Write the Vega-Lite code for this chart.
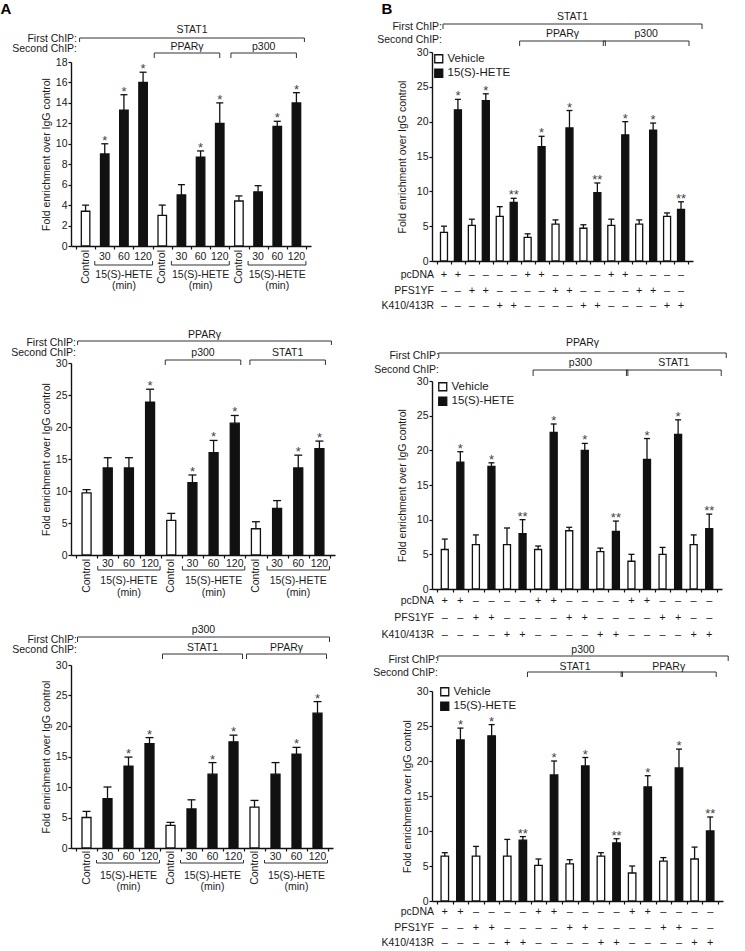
{
"$schema": "https://vega.github.io/schema/vega-lite/v6.json",
"background": "white",
"padding": {"left": 0, "top": 2, "right": 0, "bottom": 0},
"config": {
  "font": "Liberation Sans",
  "view": {"stroke": null},
  "axis": {"grid": false, "domainColor": "#111", "domainWidth": 1.4, "tickColor": "#111", "tickWidth": 1.2, "tickSize": 3, "labelFontSize": 10.5, "labelColor": "#1a1a1a", "labelPadding": 1, "labelOverlap": false, "titleFontSize": 10.5, "titleFontWeight": "normal", "titleColor": "#1a1a1a"},
  "text": {"fontSize": 10.5, "color": "#1a1a1a"},
  "rule": {"color": "#333", "strokeWidth": 1}
},
"datasets": {
  "a1": [
    {"pos":1,"t":"Control","lab":"Control","v":3.4,"hi":4.0,"sig":""},
    {"pos":2,"t":"15(S)-HETE","lab":"30","v":9.0,"hi":10.0,"sig":"*"},
    {"pos":3,"t":"15(S)-HETE","lab":"60","v":13.3,"hi":14.8,"sig":"*"},
    {"pos":4,"t":"15(S)-HETE","lab":"120","v":16.0,"hi":17.0,"sig":"*"},
    {"pos":5,"t":"Control","lab":"Control","v":3.0,"hi":4.0,"sig":""},
    {"pos":6,"t":"15(S)-HETE","lab":"30","v":5.0,"hi":6.0,"sig":""},
    {"pos":7,"t":"15(S)-HETE","lab":"60","v":8.7,"hi":9.3,"sig":"*"},
    {"pos":8,"t":"15(S)-HETE","lab":"120","v":12.0,"hi":14.0,"sig":"*"},
    {"pos":9,"t":"Control","lab":"Control","v":4.4,"hi":4.9,"sig":""},
    {"pos":10,"t":"15(S)-HETE","lab":"30","v":5.3,"hi":5.9,"sig":""},
    {"pos":11,"t":"15(S)-HETE","lab":"60","v":11.7,"hi":12.2,"sig":"*"},
    {"pos":12,"t":"15(S)-HETE","lab":"120","v":14.0,"hi":15.0,"sig":"*"}
  ],
  "a2": [
    {"pos":1,"t":"Control","lab":"Control","v":9.7,"hi":10.2,"sig":""},
    {"pos":2,"t":"15(S)-HETE","lab":"30","v":13.6,"hi":15.2,"sig":""},
    {"pos":3,"t":"15(S)-HETE","lab":"60","v":13.6,"hi":15.2,"sig":""},
    {"pos":4,"t":"15(S)-HETE","lab":"120","v":23.9,"hi":25.9,"sig":"*"},
    {"pos":5,"t":"Control","lab":"Control","v":5.4,"hi":6.5,"sig":""},
    {"pos":6,"t":"15(S)-HETE","lab":"30","v":11.3,"hi":12.5,"sig":"*"},
    {"pos":7,"t":"15(S)-HETE","lab":"60","v":16.0,"hi":17.9,"sig":"*"},
    {"pos":8,"t":"15(S)-HETE","lab":"120","v":20.6,"hi":21.8,"sig":"*"},
    {"pos":9,"t":"Control","lab":"Control","v":4.1,"hi":5.2,"sig":""},
    {"pos":10,"t":"15(S)-HETE","lab":"30","v":7.3,"hi":8.5,"sig":""},
    {"pos":11,"t":"15(S)-HETE","lab":"60","v":13.6,"hi":15.6,"sig":"*"},
    {"pos":12,"t":"15(S)-HETE","lab":"120","v":16.6,"hi":17.8,"sig":"*"}
  ],
  "a3": [
    {"pos":1,"t":"Control","lab":"Control","v":5.0,"hi":6.0,"sig":""},
    {"pos":2,"t":"15(S)-HETE","lab":"30","v":8.1,"hi":10.0,"sig":""},
    {"pos":3,"t":"15(S)-HETE","lab":"60","v":13.4,"hi":14.9,"sig":"*"},
    {"pos":4,"t":"15(S)-HETE","lab":"120","v":17.1,"hi":18.1,"sig":"*"},
    {"pos":5,"t":"Control","lab":"Control","v":3.7,"hi":4.2,"sig":""},
    {"pos":6,"t":"15(S)-HETE","lab":"30","v":6.4,"hi":7.9,"sig":""},
    {"pos":7,"t":"15(S)-HETE","lab":"60","v":12.1,"hi":14.0,"sig":"*"},
    {"pos":8,"t":"15(S)-HETE","lab":"120","v":17.4,"hi":18.5,"sig":"*"},
    {"pos":9,"t":"Control","lab":"Control","v":6.7,"hi":7.8,"sig":""},
    {"pos":10,"t":"15(S)-HETE","lab":"30","v":12.1,"hi":14.0,"sig":""},
    {"pos":11,"t":"15(S)-HETE","lab":"60","v":15.4,"hi":16.5,"sig":"*"},
    {"pos":12,"t":"15(S)-HETE","lab":"120","v":22.1,"hi":24.0,"sig":"*"}
  ],
  "b1": [
    {"pos":1,"t":"Vehicle","v":4.1,"hi":5.0,"sig":"","pc":"+","pf":"–","kr":"–"},
    {"pos":2,"t":"15(S)-HETE","v":21.7,"hi":23.2,"sig":"*","pc":"+","pf":"–","kr":"–"},
    {"pos":3,"t":"Vehicle","v":5.1,"hi":6.0,"sig":"","pc":"–","pf":"+","kr":"–"},
    {"pos":4,"t":"15(S)-HETE","v":23.0,"hi":24.0,"sig":"*","pc":"–","pf":"+","kr":"–"},
    {"pos":5,"t":"Vehicle","v":6.4,"hi":7.8,"sig":"","pc":"–","pf":"–","kr":"+"},
    {"pos":6,"t":"15(S)-HETE","v":8.4,"hi":9.0,"sig":"**","pc":"–","pf":"–","kr":"+"},
    {"pos":7,"t":"Vehicle","v":3.4,"hi":3.9,"sig":"","pc":"+","pf":"–","kr":"–"},
    {"pos":8,"t":"15(S)-HETE","v":16.4,"hi":17.9,"sig":"*","pc":"+","pf":"–","kr":"–"},
    {"pos":9,"t":"Vehicle","v":5.3,"hi":5.9,"sig":"","pc":"–","pf":"+","kr":"–"},
    {"pos":10,"t":"15(S)-HETE","v":19.1,"hi":21.6,"sig":"*","pc":"–","pf":"+","kr":"–"},
    {"pos":11,"t":"Vehicle","v":4.7,"hi":5.2,"sig":"","pc":"–","pf":"–","kr":"+"},
    {"pos":12,"t":"15(S)-HETE","v":9.8,"hi":11.2,"sig":"**","pc":"–","pf":"–","kr":"+"},
    {"pos":13,"t":"Vehicle","v":5.1,"hi":6.0,"sig":"","pc":"+","pf":"–","kr":"–"},
    {"pos":14,"t":"15(S)-HETE","v":18.1,"hi":20.0,"sig":"*","pc":"+","pf":"–","kr":"–"},
    {"pos":15,"t":"Vehicle","v":5.3,"hi":5.9,"sig":"","pc":"–","pf":"+","kr":"–"},
    {"pos":16,"t":"15(S)-HETE","v":18.8,"hi":19.8,"sig":"*","pc":"–","pf":"+","kr":"–"},
    {"pos":17,"t":"Vehicle","v":6.4,"hi":6.9,"sig":"","pc":"–","pf":"–","kr":"+"},
    {"pos":18,"t":"15(S)-HETE","v":7.4,"hi":8.5,"sig":"**","pc":"–","pf":"–","kr":"+"}
  ],
  "b2": [
    {"pos":1,"t":"Vehicle","v":5.7,"hi":7.2,"sig":"","pc":"+","pf":"–","kr":"–"},
    {"pos":2,"t":"15(S)-HETE","v":18.3,"hi":19.8,"sig":"*","pc":"+","pf":"–","kr":"–"},
    {"pos":3,"t":"Vehicle","v":6.4,"hi":7.8,"sig":"","pc":"–","pf":"+","kr":"–"},
    {"pos":4,"t":"15(S)-HETE","v":17.7,"hi":18.2,"sig":"*","pc":"–","pf":"+","kr":"–"},
    {"pos":5,"t":"Vehicle","v":6.4,"hi":8.8,"sig":"","pc":"–","pf":"–","kr":"+"},
    {"pos":6,"t":"15(S)-HETE","v":8.0,"hi":10.0,"sig":"**","pc":"–","pf":"–","kr":"+"},
    {"pos":7,"t":"Vehicle","v":5.7,"hi":6.2,"sig":"","pc":"+","pf":"–","kr":"–"},
    {"pos":8,"t":"15(S)-HETE","v":22.6,"hi":23.8,"sig":"*","pc":"+","pf":"–","kr":"–"},
    {"pos":9,"t":"Vehicle","v":8.4,"hi":8.9,"sig":"","pc":"–","pf":"+","kr":"–"},
    {"pos":10,"t":"15(S)-HETE","v":20.0,"hi":21.0,"sig":"*","pc":"–","pf":"+","kr":"–"},
    {"pos":11,"t":"Vehicle","v":5.4,"hi":5.9,"sig":"","pc":"–","pf":"–","kr":"+"},
    {"pos":12,"t":"15(S)-HETE","v":8.3,"hi":9.8,"sig":"**","pc":"–","pf":"–","kr":"+"},
    {"pos":13,"t":"Vehicle","v":4.0,"hi":5.0,"sig":"","pc":"+","pf":"–","kr":"–"},
    {"pos":14,"t":"15(S)-HETE","v":18.7,"hi":21.7,"sig":"*","pc":"+","pf":"–","kr":"–"},
    {"pos":15,"t":"Vehicle","v":5.0,"hi":6.0,"sig":"","pc":"–","pf":"+","kr":"–"},
    {"pos":16,"t":"15(S)-HETE","v":22.3,"hi":24.4,"sig":"*","pc":"–","pf":"+","kr":"–"},
    {"pos":17,"t":"Vehicle","v":6.4,"hi":7.8,"sig":"","pc":"–","pf":"–","kr":"+"},
    {"pos":18,"t":"15(S)-HETE","v":8.7,"hi":10.8,"sig":"**","pc":"–","pf":"–","kr":"+"}
  ],
  "b3": [
    {"pos":1,"t":"Vehicle","v":6.4,"hi":6.9,"sig":"","pc":"+","pf":"–","kr":"–"},
    {"pos":2,"t":"15(S)-HETE","v":23.0,"hi":24.7,"sig":"*","pc":"+","pf":"–","kr":"–"},
    {"pos":3,"t":"Vehicle","v":6.4,"hi":7.8,"sig":"","pc":"–","pf":"+","kr":"–"},
    {"pos":4,"t":"15(S)-HETE","v":23.6,"hi":25.2,"sig":"*","pc":"–","pf":"+","kr":"–"},
    {"pos":5,"t":"Vehicle","v":6.4,"hi":8.8,"sig":"","pc":"–","pf":"–","kr":"+"},
    {"pos":6,"t":"15(S)-HETE","v":8.7,"hi":9.2,"sig":"**","pc":"–","pf":"–","kr":"+"},
    {"pos":7,"t":"Vehicle","v":5.1,"hi":6.0,"sig":"","pc":"+","pf":"–","kr":"–"},
    {"pos":8,"t":"15(S)-HETE","v":18.0,"hi":20.0,"sig":"*","pc":"+","pf":"–","kr":"–"},
    {"pos":9,"t":"Vehicle","v":5.3,"hi":5.9,"sig":"","pc":"–","pf":"+","kr":"–"},
    {"pos":10,"t":"15(S)-HETE","v":19.3,"hi":20.5,"sig":"*","pc":"–","pf":"+","kr":"–"},
    {"pos":11,"t":"Vehicle","v":6.4,"hi":6.9,"sig":"","pc":"–","pf":"–","kr":"+"},
    {"pos":12,"t":"15(S)-HETE","v":8.3,"hi":8.9,"sig":"**","pc":"–","pf":"–","kr":"+"},
    {"pos":13,"t":"Vehicle","v":4.0,"hi":5.0,"sig":"","pc":"+","pf":"–","kr":"–"},
    {"pos":14,"t":"15(S)-HETE","v":16.3,"hi":17.9,"sig":"*","pc":"+","pf":"–","kr":"–"},
    {"pos":15,"t":"Vehicle","v":5.7,"hi":6.2,"sig":"","pc":"–","pf":"+","kr":"–"},
    {"pos":16,"t":"15(S)-HETE","v":19.0,"hi":21.7,"sig":"*","pc":"–","pf":"+","kr":"–"},
    {"pos":17,"t":"Vehicle","v":6.0,"hi":7.7,"sig":"","pc":"–","pf":"–","kr":"+"},
    {"pos":18,"t":"15(S)-HETE","v":10.0,"hi":12.0,"sig":"**","pc":"–","pf":"–","kr":"+"}
  ],
  "ub": [
    {"f":2,"e":4,"c":3,"l1":"15(S)-HETE","l2":"(min)"},
    {"f":6,"e":8,"c":7,"l1":"15(S)-HETE","l2":"(min)"},
    {"f":10,"e":12,"c":11,"l1":"15(S)-HETE","l2":"(min)"}
  ],
  "ba1": [{"lvl":1,"f":1,"e":12,"c":6.5,"lab":"STAT1"},{"lvl":2,"f":5,"e":8,"c":6.5,"lab":"PPARγ"},{"lvl":2,"f":9,"e":12,"c":10.5,"lab":"p300"}],
  "ba2": [{"lvl":1,"f":1,"e":12,"c":6.5,"lab":"PPARγ"},{"lvl":2,"f":5,"e":8,"c":6.5,"lab":"p300"},{"lvl":2,"f":9,"e":12,"c":10.5,"lab":"STAT1"}],
  "ba3": [{"lvl":1,"f":1,"e":12,"c":6.5,"lab":"p300"},{"lvl":2,"f":5,"e":8,"c":6.5,"lab":"STAT1"},{"lvl":2,"f":9,"e":12,"c":10.5,"lab":"PPARγ"}],
  "bb1": [{"lvl":1,"f":1,"e":18,"c":9.5,"lab":"STAT1"},{"lvl":2,"f":7,"e":12,"c":9.5,"lab":"PPARγ"},{"lvl":2,"f":13,"e":18,"c":15.5,"lab":"p300"}],
  "bb2": [{"lvl":1,"f":1,"e":18,"c":9.5,"lab":"PPARγ"},{"lvl":2,"f":7,"e":12,"c":9.5,"lab":"p300"},{"lvl":2,"f":13,"e":18,"c":15.5,"lab":"STAT1"}],
  "bb3": [{"lvl":1,"f":1,"e":18,"c":9.5,"lab":"p300"},{"lvl":2,"f":7,"e":12,"c":9.5,"lab":"STAT1"},{"lvl":2,"f":13,"e":18,"c":15.5,"lab":"PPARγ"}],
  "chip": [{"k":1,"t":"First ChIP:"},{"k":2,"t":"Second ChIP:"}],
  "rows": [{"k":1,"r":"pcDNA"},{"k":2,"r":"PFS1YF"},{"k":3,"r":"K410/413R"}],
  "letA": [{"t":"A"}],
  "letB": [{"t":"B"}]
},
"spacing": 38,
"resolve": {"scale": {"fill": "independent"}, "legend": {"fill": "independent"}},
"hconcat": [
{
"spacing": 110, "bounds": "flush",
"resolve": {"scale": {"fill": "independent"}, "legend": {"fill": "independent"}},
"vconcat": [
{
"width": 240, "height": 194,
"layer": [
{"data":{"name":"a1"},"mark":{"type":"bar","width":8.5,"stroke":"#111","strokeWidth":1.3},
 "encoding":{
  "x":{"field":"pos","type":"quantitative","scale":{"domain":[0.5,12.5],"nice":false,"zero":false},"axis":{"values":[0.5,1.5,2.5,3.5,4.5,5.5,6.5,7.5,8.5,9.5,10.5,11.5,12.5],"tickCount":50,"labels":false,"title":null}},
  "y":{"field":"v","type":"quantitative","scale":{"domain":[0,18],"nice":false,"range":[194,10]},"axis":{"values":[0,2,4,6,8,10,12,14,16,18],"tickCount":50,"format":"d","labelOverlap":false,"title":"Fold enrichment over IgG control","titlePadding":4}},
  "y2":{"datum":0},
  "fill":{"field":"t","type":"nominal","scale":{"domain":["Control","15(S)-HETE"],"range":["#ffffff","#111111"]},"legend":null}}},
{"data":{"name":"a1"},"mark":{"type":"rule","color":"#111","strokeWidth":1.3},"encoding":{"x":{"field":"pos","type":"quantitative"},"y":{"field":"v","type":"quantitative"},"y2":{"field":"hi"}}},
{"data":{"name":"a1"},"mark":{"type":"tick","orient":"horizontal","size":7,"thickness":1.3,"color":"#111","opacity":1},"encoding":{"x":{"field":"pos","type":"quantitative"},"y":{"field":"hi","type":"quantitative"}}},
{"data":{"name":"a1"},"mark":{"type":"text","fontSize":13,"baseline":"alphabetic","yOffset":1,"color":"#444"},"encoding":{"x":{"field":"pos","type":"quantitative"},"y":{"field":"hi","type":"quantitative"},"text":{"field":"sig"}}},
{"data":{"name":"a1"},"transform":[{"filter":"datum.lab == 'Control'"}],"mark":{"type":"text","angle":270,"align":"right","baseline":"middle","yOffset":4},"encoding":{"x":{"field":"pos","type":"quantitative"},"y":{"datum":0},"text":{"field":"lab"}}},
{"data":{"name":"a1"},"transform":[{"filter":"datum.lab != 'Control'"}],"mark":{"type":"text","baseline":"middle","yOffset":11},"encoding":{"x":{"field":"pos","type":"quantitative"},"y":{"datum":0},"text":{"field":"lab"}}},
{"data":{"name":"ub"},"mark":{"type":"rule","xOffset":-10,"x2Offset":9.5,"yOffset":19},"encoding":{"x":{"field":"f","type":"quantitative"},"x2":{"field":"e"},"y":{"datum":0}}},
{"data":{"name":"ub"},"mark":{"type":"rule","xOffset":-10,"yOffset":15,"y2Offset":19},"encoding":{"x":{"field":"f","type":"quantitative"},"y":{"datum":0},"y2":{"datum":0}}},
{"data":{"name":"ub"},"mark":{"type":"rule","xOffset":9.5,"yOffset":15,"y2Offset":19},"encoding":{"x":{"field":"e","type":"quantitative"},"y":{"datum":0},"y2":{"datum":0}}},
{"data":{"name":"ub"},"mark":{"type":"text","baseline":"middle","yOffset":29},"encoding":{"x":{"field":"c","type":"quantitative"},"y":{"datum":0},"text":{"field":"l1"}}},
{"data":{"name":"ub"},"mark":{"type":"text","baseline":"middle","yOffset":40},"encoding":{"x":{"field":"c","type":"quantitative"},"y":{"datum":0},"text":{"field":"l2"}}},
{"data":{"name":"ba1"},"transform":[{"filter":"datum.lvl == 1"}],"mark":{"type":"rule","xOffset":-6,"x2Offset":8,"yOffset":-24},"encoding":{"x":{"field":"f","type":"quantitative"},"x2":{"field":"e"},"y":{"datum":18}}},
{"data":{"name":"ba1"},"transform":[{"filter":"datum.lvl == 1"}],"mark":{"type":"rule","xOffset":-6,"yOffset":-24,"y2Offset":-20},"encoding":{"x":{"field":"f","type":"quantitative"},"y":{"datum":18},"y2":{"datum":18}}},
{"data":{"name":"ba1"},"transform":[{"filter":"datum.lvl == 1"}],"mark":{"type":"rule","xOffset":8,"yOffset":-24,"y2Offset":-20},"encoding":{"x":{"field":"e","type":"quantitative"},"y":{"datum":18},"y2":{"datum":18}}},
{"data":{"name":"ba1"},"transform":[{"filter":"datum.lvl == 1"}],"mark":{"type":"text","baseline":"middle","xOffset":1,"yOffset":-32},"encoding":{"x":{"field":"c","type":"quantitative"},"y":{"datum":18},"text":{"field":"lab"}}},
{"data":{"name":"ba1"},"transform":[{"filter":"datum.lvl == 2"}],"mark":{"type":"rule","xOffset":-8,"x2Offset":0,"yOffset":-9},"encoding":{"x":{"field":"f","type":"quantitative"},"x2":{"field":"e"},"y":{"datum":18}}},
{"data":{"name":"ba1"},"transform":[{"filter":"datum.lvl == 2"}],"mark":{"type":"rule","xOffset":-8,"yOffset":-9,"y2Offset":-4},"encoding":{"x":{"field":"f","type":"quantitative"},"y":{"datum":18},"y2":{"datum":18}}},
{"data":{"name":"ba1"},"transform":[{"filter":"datum.lvl == 2"}],"mark":{"type":"rule","xOffset":0,"yOffset":-9,"y2Offset":-4},"encoding":{"x":{"field":"e","type":"quantitative"},"y":{"datum":18},"y2":{"datum":18}}},
{"data":{"name":"ba1"},"transform":[{"filter":"datum.lvl == 2"}],"mark":{"type":"text","baseline":"middle","xOffset":-4,"yOffset":-15},"encoding":{"x":{"field":"c","type":"quantitative"},"y":{"datum":18},"text":{"field":"lab"}}},
{"data":{"name":"chip"},"transform":[{"filter":"datum.k == 1"}],"mark":{"type":"text","align":"right","baseline":"middle","xOffset":1,"yOffset":-23.5},"encoding":{"x":{"datum":0.5},"y":{"datum":18},"text":{"field":"t"}}},
{"data":{"name":"chip"},"transform":[{"filter":"datum.k == 2"}],"mark":{"type":"text","align":"right","baseline":"middle","xOffset":1,"yOffset":-13},"encoding":{"x":{"datum":0.5},"y":{"datum":18},"text":{"field":"t"}}},
{"data":{"name":"letA"},"mark":{"type":"text","fontSize":15,"fontWeight":"bold","baseline":"middle","xOffset":-70,"yOffset":-53,"color":"#000"},"encoding":{"x":{"datum":0.5},"y":{"datum":18},"text":{"field":"t"}}}
]
},
{
"width": 264, "height": 199,
"layer": [
{"data":{"name":"a2"},"mark":{"type":"bar","width":9,"stroke":"#111","strokeWidth":1.3},
 "encoding":{
  "x":{"field":"pos","type":"quantitative","scale":{"domain":[0.5,12.5],"nice":false,"zero":false},"axis":{"values":[0.5,1.5,2.5,3.5,4.5,5.5,6.5,7.5,8.5,9.5,10.5,11.5,12.5],"tickCount":50,"labels":false,"title":null}},
  "y":{"field":"v","type":"quantitative","scale":{"domain":[0,30],"nice":false,"range":[199,7]},"axis":{"values":[0,5,10,15,20,25,30],"tickCount":50,"format":"d","labelOverlap":false,"title":"Fold enrichment over IgG control","titlePadding":4}},
  "y2":{"datum":0},
  "fill":{"field":"t","type":"nominal","scale":{"domain":["Control","15(S)-HETE"],"range":["#ffffff","#111111"]},"legend":null}}},
{"data":{"name":"a2"},"mark":{"type":"rule","color":"#111","strokeWidth":1.3},"encoding":{"x":{"field":"pos","type":"quantitative"},"y":{"field":"v","type":"quantitative"},"y2":{"field":"hi"}}},
{"data":{"name":"a2"},"mark":{"type":"tick","orient":"horizontal","size":8,"thickness":1.3,"color":"#111","opacity":1},"encoding":{"x":{"field":"pos","type":"quantitative"},"y":{"field":"hi","type":"quantitative"}}},
{"data":{"name":"a2"},"mark":{"type":"text","fontSize":13,"baseline":"alphabetic","yOffset":1,"color":"#444"},"encoding":{"x":{"field":"pos","type":"quantitative"},"y":{"field":"hi","type":"quantitative"},"text":{"field":"sig"}}},
{"data":{"name":"a2"},"transform":[{"filter":"datum.lab == 'Control'"}],"mark":{"type":"text","angle":270,"align":"right","baseline":"middle","yOffset":4},"encoding":{"x":{"field":"pos","type":"quantitative"},"y":{"datum":0},"text":{"field":"lab"}}},
{"data":{"name":"a2"},"transform":[{"filter":"datum.lab != 'Control'"}],"mark":{"type":"text","baseline":"middle","yOffset":9},"encoding":{"x":{"field":"pos","type":"quantitative"},"y":{"datum":0},"text":{"field":"lab"}}},
{"data":{"name":"ub"},"mark":{"type":"rule","xOffset":-10,"x2Offset":10,"yOffset":15},"encoding":{"x":{"field":"f","type":"quantitative"},"x2":{"field":"e"},"y":{"datum":0}}},
{"data":{"name":"ub"},"mark":{"type":"rule","xOffset":-10,"yOffset":11,"y2Offset":15},"encoding":{"x":{"field":"f","type":"quantitative"},"y":{"datum":0},"y2":{"datum":0}}},
{"data":{"name":"ub"},"mark":{"type":"rule","xOffset":10,"yOffset":11,"y2Offset":15},"encoding":{"x":{"field":"e","type":"quantitative"},"y":{"datum":0},"y2":{"datum":0}}},
{"data":{"name":"ub"},"mark":{"type":"text","baseline":"middle","yOffset":26},"encoding":{"x":{"field":"c","type":"quantitative"},"y":{"datum":0},"text":{"field":"l1"}}},
{"data":{"name":"ub"},"mark":{"type":"text","baseline":"middle","yOffset":38},"encoding":{"x":{"field":"c","type":"quantitative"},"y":{"datum":0},"text":{"field":"l2"}}},
{"data":{"name":"ba2"},"transform":[{"filter":"datum.lvl == 1"}],"mark":{"type":"rule","xOffset":-9,"x2Offset":12,"yOffset":-22},"encoding":{"x":{"field":"f","type":"quantitative"},"x2":{"field":"e"},"y":{"datum":30}}},
{"data":{"name":"ba2"},"transform":[{"filter":"datum.lvl == 1"}],"mark":{"type":"rule","xOffset":-9,"yOffset":-22,"y2Offset":-18},"encoding":{"x":{"field":"f","type":"quantitative"},"y":{"datum":30},"y2":{"datum":30}}},
{"data":{"name":"ba2"},"transform":[{"filter":"datum.lvl == 1"}],"mark":{"type":"rule","xOffset":12,"yOffset":-22,"y2Offset":-18},"encoding":{"x":{"field":"e","type":"quantitative"},"y":{"datum":30},"y2":{"datum":30}}},
{"data":{"name":"ba2"},"transform":[{"filter":"datum.lvl == 1"}],"mark":{"type":"text","baseline":"middle","xOffset":1.5,"yOffset":-28},"encoding":{"x":{"field":"c","type":"quantitative"},"y":{"datum":30},"text":{"field":"lab"}}},
{"data":{"name":"ba2"},"transform":[{"filter":"datum.lvl == 2"}],"mark":{"type":"rule","xOffset":-6,"x2Offset":6,"yOffset":-3},"encoding":{"x":{"field":"f","type":"quantitative"},"x2":{"field":"e"},"y":{"datum":30}}},
{"data":{"name":"ba2"},"transform":[{"filter":"datum.lvl == 2"}],"mark":{"type":"rule","xOffset":-6,"yOffset":-3,"y2Offset":2},"encoding":{"x":{"field":"f","type":"quantitative"},"y":{"datum":30},"y2":{"datum":30}}},
{"data":{"name":"ba2"},"transform":[{"filter":"datum.lvl == 2"}],"mark":{"type":"rule","xOffset":6,"yOffset":-3,"y2Offset":2},"encoding":{"x":{"field":"e","type":"quantitative"},"y":{"datum":30},"y2":{"datum":30}}},
{"data":{"name":"ba2"},"transform":[{"filter":"datum.lvl == 2"}],"mark":{"type":"text","baseline":"middle","xOffset":0,"yOffset":-10},"encoding":{"x":{"field":"c","type":"quantitative"},"y":{"datum":30},"text":{"field":"lab"}}},
{"data":{"name":"chip"},"transform":[{"filter":"datum.k == 1"}],"mark":{"type":"text","align":"right","baseline":"middle","xOffset":0,"yOffset":-20.5},"encoding":{"x":{"datum":0.5},"y":{"datum":30},"text":{"field":"t"}}},
{"data":{"name":"chip"},"transform":[{"filter":"datum.k == 2"}],"mark":{"type":"text","align":"right","baseline":"middle","xOffset":0,"yOffset":-10},"encoding":{"x":{"datum":0.5},"y":{"datum":30},"text":{"field":"t"}}}
]
},
{
"width": 262, "height": 183,
"layer": [
{"data":{"name":"a3"},"mark":{"type":"bar","width":9,"stroke":"#111","strokeWidth":1.3},
 "encoding":{
  "x":{"field":"pos","type":"quantitative","scale":{"domain":[0.5,12.5],"nice":false,"zero":false},"axis":{"values":[0.5,1.5,2.5,3.5,4.5,5.5,6.5,7.5,8.5,9.5,10.5,11.5,12.5],"tickCount":50,"labels":false,"title":null}},
  "y":{"field":"v","type":"quantitative","scale":{"domain":[0,30],"nice":false},"axis":{"values":[0,5,10,15,20,25,30],"tickCount":50,"format":"d","labelOverlap":false,"title":"Fold enrichment over IgG control","titlePadding":3.5}},
  "y2":{"datum":0},
  "fill":{"field":"t","type":"nominal","scale":{"domain":["Control","15(S)-HETE"],"range":["#ffffff","#111111"]},"legend":null}}},
{"data":{"name":"a3"},"mark":{"type":"rule","color":"#111","strokeWidth":1.3},"encoding":{"x":{"field":"pos","type":"quantitative"},"y":{"field":"v","type":"quantitative"},"y2":{"field":"hi"}}},
{"data":{"name":"a3"},"mark":{"type":"tick","orient":"horizontal","size":8,"thickness":1.3,"color":"#111","opacity":1},"encoding":{"x":{"field":"pos","type":"quantitative"},"y":{"field":"hi","type":"quantitative"}}},
{"data":{"name":"a3"},"mark":{"type":"text","fontSize":13,"baseline":"alphabetic","yOffset":1,"color":"#444"},"encoding":{"x":{"field":"pos","type":"quantitative"},"y":{"field":"hi","type":"quantitative"},"text":{"field":"sig"}}},
{"data":{"name":"a3"},"transform":[{"filter":"datum.lab == 'Control'"}],"mark":{"type":"text","angle":270,"align":"right","baseline":"middle","yOffset":3},"encoding":{"x":{"field":"pos","type":"quantitative"},"y":{"datum":0},"text":{"field":"lab"}}},
{"data":{"name":"a3"},"transform":[{"filter":"datum.lab != 'Control'"}],"mark":{"type":"text","baseline":"middle","yOffset":9},"encoding":{"x":{"field":"pos","type":"quantitative"},"y":{"datum":0},"text":{"field":"lab"}}},
{"data":{"name":"ub"},"mark":{"type":"rule","xOffset":-11,"x2Offset":10,"yOffset":15},"encoding":{"x":{"field":"f","type":"quantitative"},"x2":{"field":"e"},"y":{"datum":0}}},
{"data":{"name":"ub"},"mark":{"type":"rule","xOffset":-11,"yOffset":12,"y2Offset":15},"encoding":{"x":{"field":"f","type":"quantitative"},"y":{"datum":0},"y2":{"datum":0}}},
{"data":{"name":"ub"},"mark":{"type":"rule","xOffset":10,"yOffset":12,"y2Offset":15},"encoding":{"x":{"field":"e","type":"quantitative"},"y":{"datum":0},"y2":{"datum":0}}},
{"data":{"name":"ub"},"mark":{"type":"text","baseline":"middle","yOffset":28},"encoding":{"x":{"field":"c","type":"quantitative"},"y":{"datum":0},"text":{"field":"l1"}}},
{"data":{"name":"ub"},"mark":{"type":"text","baseline":"middle","yOffset":39},"encoding":{"x":{"field":"c","type":"quantitative"},"y":{"datum":0},"text":{"field":"l2"}}},
{"data":{"name":"ba3"},"transform":[{"filter":"datum.lvl == 1"}],"mark":{"type":"rule","xOffset":-9,"x2Offset":12,"yOffset":-28},"encoding":{"x":{"field":"f","type":"quantitative"},"x2":{"field":"e"},"y":{"datum":30}}},
{"data":{"name":"ba3"},"transform":[{"filter":"datum.lvl == 1"}],"mark":{"type":"rule","xOffset":-9,"yOffset":-28,"y2Offset":-23},"encoding":{"x":{"field":"f","type":"quantitative"},"y":{"datum":30},"y2":{"datum":30}}},
{"data":{"name":"ba3"},"transform":[{"filter":"datum.lvl == 1"}],"mark":{"type":"rule","xOffset":12,"yOffset":-28,"y2Offset":-23},"encoding":{"x":{"field":"e","type":"quantitative"},"y":{"datum":30},"y2":{"datum":30}}},
{"data":{"name":"ba3"},"transform":[{"filter":"datum.lvl == 1"}],"mark":{"type":"text","baseline":"middle","xOffset":1.5,"yOffset":-35},"encoding":{"x":{"field":"c","type":"quantitative"},"y":{"datum":30},"text":{"field":"lab"}}},
{"data":{"name":"ba3"},"transform":[{"filter":"datum.lvl == 2"}],"mark":{"type":"rule","xOffset":-8,"x2Offset":9,"yOffset":-11},"encoding":{"x":{"field":"f","type":"quantitative"},"x2":{"field":"e"},"y":{"datum":30}}},
{"data":{"name":"ba3"},"transform":[{"filter":"datum.lvl == 2"}],"mark":{"type":"rule","xOffset":-8,"yOffset":-11,"y2Offset":-6},"encoding":{"x":{"field":"f","type":"quantitative"},"y":{"datum":30},"y2":{"datum":30}}},
{"data":{"name":"ba3"},"transform":[{"filter":"datum.lvl == 2"}],"mark":{"type":"rule","xOffset":9,"yOffset":-11,"y2Offset":-6},"encoding":{"x":{"field":"e","type":"quantitative"},"y":{"datum":30},"y2":{"datum":30}}},
{"data":{"name":"ba3"},"transform":[{"filter":"datum.lvl == 2"}],"mark":{"type":"text","baseline":"middle","xOffset":0.5,"yOffset":-17},"encoding":{"x":{"field":"c","type":"quantitative"},"y":{"datum":30},"text":{"field":"lab"}}},
{"data":{"name":"chip"},"transform":[{"filter":"datum.k == 1"}],"mark":{"type":"text","align":"right","baseline":"middle","xOffset":1,"yOffset":-25.5},"encoding":{"x":{"datum":0.5},"y":{"datum":30},"text":{"field":"t"}}},
{"data":{"name":"chip"},"transform":[{"filter":"datum.k == 2"}],"mark":{"type":"text","align":"right","baseline":"middle","xOffset":1,"yOffset":-15},"encoding":{"x":{"datum":0.5},"y":{"datum":30},"text":{"field":"t"}}}
]
}
]
},
{
"spacing": 102, "bounds": "flush",
"resolve": {"scale": {"fill": "independent"}, "legend": {"fill": "independent"}},
"vconcat": [
{
"width": 261, "height": 209,
"layer": [
{"data":{"name":"b1"},"mark":{"type":"bar","width":7,"stroke":"#111","strokeWidth":1.3},
 "encoding":{
  "x":{"field":"pos","type":"quantitative","scale":{"domain":[0.5,18.5],"nice":false,"zero":false},"axis":{"values":[0.5,1.5,2.5,3.5,4.5,5.5,6.5,7.5,8.5,9.5,10.5,11.5,12.5,13.5,14.5,15.5,16.5,17.5,18.5],"tickCount":50,"labels":false,"title":null}},
  "y":{"field":"v","type":"quantitative","scale":{"domain":[0,30],"nice":false},"axis":{"values":[0,5,10,15,20,25,30],"tickCount":50,"format":"d","labelOverlap":false,"title":"Fold enrichment over IgG control","titlePadding":9}},
  "y2":{"datum":0},
  "fill":{"field":"t","type":"nominal","scale":{"domain":["Vehicle","15(S)-HETE"],"range":["#ffffff","#111111"]},"legend":{"orient":"none","legendX":1,"legendY":1,"title":null,"symbolType":"square","symbolSize":64,"symbolStrokeColor":"#111","symbolStrokeWidth":1.3,"labelFontSize":11.5,"labelColor":"#1a1a1a","rowPadding":0.5,"labelOffset":3,"padding":0}}}},
{"data":{"name":"b1"},"mark":{"type":"rule","color":"#111","strokeWidth":1.3},"encoding":{"x":{"field":"pos","type":"quantitative"},"y":{"field":"v","type":"quantitative"},"y2":{"field":"hi"}}},
{"data":{"name":"b1"},"mark":{"type":"tick","orient":"horizontal","size":6,"thickness":1.3,"color":"#111","opacity":1},"encoding":{"x":{"field":"pos","type":"quantitative"},"y":{"field":"hi","type":"quantitative"}}},
{"data":{"name":"b1"},"mark":{"type":"text","fontSize":13,"baseline":"alphabetic","yOffset":1,"color":"#444"},"encoding":{"x":{"field":"pos","type":"quantitative"},"y":{"field":"hi","type":"quantitative"},"text":{"field":"sig"}}},
{"data":{"name":"b1"},"mark":{"type":"text","fontSize":11,"baseline":"middle","yOffset":14,"color":"#1a1a1a"},"encoding":{"x":{"field":"pos","type":"quantitative"},"y":{"datum":0},"text":{"field":"pc"}}},
{"data":{"name":"b1"},"mark":{"type":"text","fontSize":11,"baseline":"middle","yOffset":30,"color":"#1a1a1a"},"encoding":{"x":{"field":"pos","type":"quantitative"},"y":{"datum":0},"text":{"field":"pf"}}},
{"data":{"name":"b1"},"mark":{"type":"text","fontSize":11,"baseline":"middle","yOffset":45,"color":"#1a1a1a"},"encoding":{"x":{"field":"pos","type":"quantitative"},"y":{"datum":0},"text":{"field":"kr"}}},
{"data":{"name":"rows"},"transform":[{"filter":"datum.k == 1"}],"mark":{"type":"text","align":"right","baseline":"middle","xOffset":-3,"yOffset":14},"encoding":{"x":{"datum":0.5},"y":{"datum":0},"text":{"field":"r"}}},
{"data":{"name":"rows"},"transform":[{"filter":"datum.k == 2"}],"mark":{"type":"text","align":"right","baseline":"middle","xOffset":-3,"yOffset":30},"encoding":{"x":{"datum":0.5},"y":{"datum":0},"text":{"field":"r"}}},
{"data":{"name":"rows"},"transform":[{"filter":"datum.k == 3"}],"mark":{"type":"text","align":"right","baseline":"middle","xOffset":-3,"yOffset":45},"encoding":{"x":{"datum":0.5},"y":{"datum":0},"text":{"field":"r"}}},
{"data":{"name":"bb1"},"transform":[{"filter":"datum.lvl == 1"}],"mark":{"type":"rule","xOffset":-1,"x2Offset":21,"yOffset":-28},"encoding":{"x":{"field":"f","type":"quantitative"},"x2":{"field":"e"},"y":{"datum":30}}},
{"data":{"name":"bb1"},"transform":[{"filter":"datum.lvl == 1"}],"mark":{"type":"rule","xOffset":-1,"yOffset":-28,"y2Offset":-23},"encoding":{"x":{"field":"f","type":"quantitative"},"y":{"datum":30},"y2":{"datum":30}}},
{"data":{"name":"bb1"},"transform":[{"filter":"datum.lvl == 1"}],"mark":{"type":"rule","xOffset":21,"yOffset":-28,"y2Offset":-23},"encoding":{"x":{"field":"e","type":"quantitative"},"y":{"datum":30},"y2":{"datum":30}}},
{"data":{"name":"bb1"},"transform":[{"filter":"datum.lvl == 1"}],"mark":{"type":"text","baseline":"middle","xOffset":10,"yOffset":-35},"encoding":{"x":{"field":"c","type":"quantitative"},"y":{"datum":30},"text":{"field":"lab"}}},
{"data":{"name":"bb1"},"transform":[{"filter":"datum.lvl == 2"}],"mark":{"type":"rule","xOffset":-8,"x2Offset":8,"yOffset":-11},"encoding":{"x":{"field":"f","type":"quantitative"},"x2":{"field":"e"},"y":{"datum":30}}},
{"data":{"name":"bb1"},"transform":[{"filter":"datum.lvl == 2"}],"mark":{"type":"rule","xOffset":-8,"yOffset":-11,"y2Offset":-6},"encoding":{"x":{"field":"f","type":"quantitative"},"y":{"datum":30},"y2":{"datum":30}}},
{"data":{"name":"bb1"},"transform":[{"filter":"datum.lvl == 2"}],"mark":{"type":"rule","xOffset":8,"yOffset":-11,"y2Offset":-6},"encoding":{"x":{"field":"e","type":"quantitative"},"y":{"datum":30},"y2":{"datum":30}}},
{"data":{"name":"bb1"},"transform":[{"filter":"datum.lvl == 2"}],"mark":{"type":"text","baseline":"middle","xOffset":0,"yOffset":-18},"encoding":{"x":{"field":"c","type":"quantitative"},"y":{"datum":30},"text":{"field":"lab"}}},
{"data":{"name":"chip"},"transform":[{"filter":"datum.k == 1"}],"mark":{"type":"text","align":"right","baseline":"middle","xOffset":5,"yOffset":-25},"encoding":{"x":{"datum":0.5},"y":{"datum":30},"text":{"field":"t"}}},
{"data":{"name":"chip"},"transform":[{"filter":"datum.k == 2"}],"mark":{"type":"text","align":"right","baseline":"middle","xOffset":5,"yOffset":-12},"encoding":{"x":{"datum":0.5},"y":{"datum":30},"text":{"field":"t"}}},
{"data":{"name":"letB"},"mark":{"type":"text","fontSize":15,"fontWeight":"bold","baseline":"middle","xOffset":-50,"yOffset":-43,"color":"#000"},"encoding":{"x":{"datum":0.5},"y":{"datum":30},"text":{"field":"t"}}}
]
},
{
"width": 290, "height": 226,
"layer": [
{"data":{"name":"b2"},"mark":{"type":"bar","width":7,"stroke":"#111","strokeWidth":1.3},
 "encoding":{
  "x":{"field":"pos","type":"quantitative","scale":{"domain":[0.5,18.5],"nice":false,"zero":false},"axis":{"values":[0.5,1.5,2.5,3.5,4.5,5.5,6.5,7.5,8.5,9.5,10.5,11.5,12.5,13.5,14.5,15.5,16.5,17.5,18.5],"tickCount":50,"labels":false,"title":null}},
  "y":{"field":"v","type":"quantitative","scale":{"domain":[0,30],"nice":false,"range":[226,18]},"axis":{"values":[0,5,10,15,20,25,30],"tickCount":50,"format":"d","labelOverlap":false,"title":"Fold enrichment over IgG control","titlePadding":9}},
  "y2":{"datum":0},
  "fill":{"field":"t","type":"nominal","scale":{"domain":["Vehicle","15(S)-HETE"],"range":["#ffffff","#111111"]},"legend":{"orient":"none","legendX":5,"legendY":18,"title":null,"symbolType":"square","symbolSize":64,"symbolStrokeColor":"#111","symbolStrokeWidth":1.3,"labelFontSize":11.5,"labelColor":"#1a1a1a","rowPadding":0.5,"labelOffset":3,"padding":0}}}},
{"data":{"name":"b2"},"mark":{"type":"rule","color":"#111","strokeWidth":1.3},"encoding":{"x":{"field":"pos","type":"quantitative"},"y":{"field":"v","type":"quantitative"},"y2":{"field":"hi"}}},
{"data":{"name":"b2"},"mark":{"type":"tick","orient":"horizontal","size":6,"thickness":1.3,"color":"#111","opacity":1},"encoding":{"x":{"field":"pos","type":"quantitative"},"y":{"field":"hi","type":"quantitative"}}},
{"data":{"name":"b2"},"mark":{"type":"text","fontSize":13,"baseline":"alphabetic","yOffset":1,"color":"#444"},"encoding":{"x":{"field":"pos","type":"quantitative"},"y":{"field":"hi","type":"quantitative"},"text":{"field":"sig"}}},
{"data":{"name":"b2"},"mark":{"type":"text","fontSize":11,"baseline":"middle","yOffset":12,"color":"#1a1a1a"},"encoding":{"x":{"field":"pos","type":"quantitative"},"y":{"datum":0},"text":{"field":"pc"}}},
{"data":{"name":"b2"},"mark":{"type":"text","fontSize":11,"baseline":"middle","yOffset":29,"color":"#1a1a1a"},"encoding":{"x":{"field":"pos","type":"quantitative"},"y":{"datum":0},"text":{"field":"pf"}}},
{"data":{"name":"b2"},"mark":{"type":"text","fontSize":11,"baseline":"middle","yOffset":46,"color":"#1a1a1a"},"encoding":{"x":{"field":"pos","type":"quantitative"},"y":{"datum":0},"text":{"field":"kr"}}},
{"data":{"name":"rows"},"transform":[{"filter":"datum.k == 1"}],"mark":{"type":"text","align":"right","baseline":"middle","xOffset":-3,"yOffset":12},"encoding":{"x":{"datum":0.5},"y":{"datum":0},"text":{"field":"r"}}},
{"data":{"name":"rows"},"transform":[{"filter":"datum.k == 2"}],"mark":{"type":"text","align":"right","baseline":"middle","xOffset":-3,"yOffset":29},"encoding":{"x":{"datum":0.5},"y":{"datum":0},"text":{"field":"r"}}},
{"data":{"name":"rows"},"transform":[{"filter":"datum.k == 3"}],"mark":{"type":"text","align":"right","baseline":"middle","xOffset":-3,"yOffset":46},"encoding":{"x":{"datum":0.5},"y":{"datum":0},"text":{"field":"r"}}},
{"data":{"name":"bb2"},"transform":[{"filter":"datum.lvl == 1"}],"mark":{"type":"rule","xOffset":-6,"x2Offset":17,"yOffset":-28},"encoding":{"x":{"field":"f","type":"quantitative"},"x2":{"field":"e"},"y":{"datum":30}}},
{"data":{"name":"bb2"},"transform":[{"filter":"datum.lvl == 1"}],"mark":{"type":"rule","xOffset":-6,"yOffset":-28,"y2Offset":-23},"encoding":{"x":{"field":"f","type":"quantitative"},"y":{"datum":30},"y2":{"datum":30}}},
{"data":{"name":"bb2"},"transform":[{"filter":"datum.lvl == 1"}],"mark":{"type":"rule","xOffset":17,"yOffset":-28,"y2Offset":-23},"encoding":{"x":{"field":"e","type":"quantitative"},"y":{"datum":30},"y2":{"datum":30}}},
{"data":{"name":"bb2"},"transform":[{"filter":"datum.lvl == 1"}],"mark":{"type":"text","baseline":"middle","xOffset":5.5,"yOffset":-38},"encoding":{"x":{"field":"c","type":"quantitative"},"y":{"datum":30},"text":{"field":"lab"}}},
{"data":{"name":"bb2"},"transform":[{"filter":"datum.lvl == 2"}],"mark":{"type":"rule","xOffset":-5,"x2Offset":12,"yOffset":-11},"encoding":{"x":{"field":"f","type":"quantitative"},"x2":{"field":"e"},"y":{"datum":30}}},
{"data":{"name":"bb2"},"transform":[{"filter":"datum.lvl == 2"}],"mark":{"type":"rule","xOffset":-5,"yOffset":-11,"y2Offset":-5},"encoding":{"x":{"field":"f","type":"quantitative"},"y":{"datum":30},"y2":{"datum":30}}},
{"data":{"name":"bb2"},"transform":[{"filter":"datum.lvl == 2"}],"mark":{"type":"rule","xOffset":12,"yOffset":-11,"y2Offset":-5},"encoding":{"x":{"field":"e","type":"quantitative"},"y":{"datum":30},"y2":{"datum":30}}},
{"data":{"name":"bb2"},"transform":[{"filter":"datum.lvl == 2"}],"mark":{"type":"text","baseline":"middle","xOffset":3.5,"yOffset":-18},"encoding":{"x":{"field":"c","type":"quantitative"},"y":{"datum":30},"text":{"field":"lab"}}},
{"data":{"name":"chip"},"transform":[{"filter":"datum.k == 1"}],"mark":{"type":"text","align":"right","baseline":"middle","xOffset":2,"yOffset":-25},"encoding":{"x":{"datum":0.5},"y":{"datum":30},"text":{"field":"t"}}},
{"data":{"name":"chip"},"transform":[{"filter":"datum.k == 2"}],"mark":{"type":"text","align":"right","baseline":"middle","xOffset":2,"yOffset":-11},"encoding":{"x":{"datum":0.5},"y":{"datum":30},"text":{"field":"t"}}}
]
},
{
"width": 291, "height": 210,
"layer": [
{"data":{"name":"b3"},"mark":{"type":"bar","width":7.5,"stroke":"#111","strokeWidth":1.3},
 "encoding":{
  "x":{"field":"pos","type":"quantitative","scale":{"domain":[0.5,18.5],"nice":false,"zero":false},"axis":{"values":[0.5,1.5,2.5,3.5,4.5,5.5,6.5,7.5,8.5,9.5,10.5,11.5,12.5,13.5,14.5,15.5,16.5,17.5,18.5],"tickCount":50,"labels":false,"title":null}},
  "y":{"field":"v","type":"quantitative","scale":{"domain":[0,30],"nice":false},"axis":{"values":[0,5,10,15,20,25,30],"tickCount":50,"format":"d","labelOverlap":false,"title":"Fold enrichment over IgG control","titlePadding":4}},
  "y2":{"datum":0},
  "fill":{"field":"t","type":"nominal","scale":{"domain":["Vehicle","15(S)-HETE"],"range":["#ffffff","#111111"]},"legend":{"orient":"none","legendX":7,"legendY":-5,"title":null,"symbolType":"square","symbolSize":64,"symbolStrokeColor":"#111","symbolStrokeWidth":1.3,"labelFontSize":11.5,"labelColor":"#1a1a1a","rowPadding":0.5,"labelOffset":3,"padding":0}}}},
{"data":{"name":"b3"},"mark":{"type":"rule","color":"#111","strokeWidth":1.3},"encoding":{"x":{"field":"pos","type":"quantitative"},"y":{"field":"v","type":"quantitative"},"y2":{"field":"hi"}}},
{"data":{"name":"b3"},"mark":{"type":"tick","orient":"horizontal","size":6,"thickness":1.3,"color":"#111","opacity":1},"encoding":{"x":{"field":"pos","type":"quantitative"},"y":{"field":"hi","type":"quantitative"}}},
{"data":{"name":"b3"},"mark":{"type":"text","fontSize":13,"baseline":"alphabetic","yOffset":1,"color":"#444"},"encoding":{"x":{"field":"pos","type":"quantitative"},"y":{"field":"hi","type":"quantitative"},"text":{"field":"sig"}}},
{"data":{"name":"b3"},"mark":{"type":"text","fontSize":11,"baseline":"middle","yOffset":11,"color":"#1a1a1a"},"encoding":{"x":{"field":"pos","type":"quantitative"},"y":{"datum":0},"text":{"field":"pc"}}},
{"data":{"name":"b3"},"mark":{"type":"text","fontSize":11,"baseline":"middle","yOffset":27,"color":"#1a1a1a"},"encoding":{"x":{"field":"pos","type":"quantitative"},"y":{"datum":0},"text":{"field":"pf"}}},
{"data":{"name":"b3"},"mark":{"type":"text","fontSize":11,"baseline":"middle","yOffset":42,"color":"#1a1a1a"},"encoding":{"x":{"field":"pos","type":"quantitative"},"y":{"datum":0},"text":{"field":"kr"}}},
{"data":{"name":"rows"},"transform":[{"filter":"datum.k == 1"}],"mark":{"type":"text","align":"right","baseline":"middle","xOffset":-3,"yOffset":11},"encoding":{"x":{"datum":0.5},"y":{"datum":0},"text":{"field":"r"}}},
{"data":{"name":"rows"},"transform":[{"filter":"datum.k == 2"}],"mark":{"type":"text","align":"right","baseline":"middle","xOffset":-3,"yOffset":27},"encoding":{"x":{"datum":0.5},"y":{"datum":0},"text":{"field":"r"}}},
{"data":{"name":"rows"},"transform":[{"filter":"datum.k == 3"}],"mark":{"type":"text","align":"right","baseline":"middle","xOffset":-3,"yOffset":42},"encoding":{"x":{"datum":0.5},"y":{"datum":0},"text":{"field":"r"}}},
{"data":{"name":"bb3"},"transform":[{"filter":"datum.lvl == 1"}],"mark":{"type":"rule","xOffset":-7,"x2Offset":18,"yOffset":-35},"encoding":{"x":{"field":"f","type":"quantitative"},"x2":{"field":"e"},"y":{"datum":30}}},
{"data":{"name":"bb3"},"transform":[{"filter":"datum.lvl == 1"}],"mark":{"type":"rule","xOffset":-7,"yOffset":-35,"y2Offset":-30},"encoding":{"x":{"field":"f","type":"quantitative"},"y":{"datum":30},"y2":{"datum":30}}},
{"data":{"name":"bb3"},"transform":[{"filter":"datum.lvl == 1"}],"mark":{"type":"rule","xOffset":18,"yOffset":-35,"y2Offset":-30},"encoding":{"x":{"field":"e","type":"quantitative"},"y":{"datum":30},"y2":{"datum":30}}},
{"data":{"name":"bb3"},"transform":[{"filter":"datum.lvl == 1"}],"mark":{"type":"text","baseline":"middle","xOffset":5.5,"yOffset":-41},"encoding":{"x":{"field":"c","type":"quantitative"},"y":{"datum":30},"text":{"field":"lab"}}},
{"data":{"name":"bb3"},"transform":[{"filter":"datum.lvl == 2"}],"mark":{"type":"rule","xOffset":-11,"x2Offset":6,"yOffset":-19},"encoding":{"x":{"field":"f","type":"quantitative"},"x2":{"field":"e"},"y":{"datum":30}}},
{"data":{"name":"bb3"},"transform":[{"filter":"datum.lvl == 2"}],"mark":{"type":"rule","xOffset":-11,"yOffset":-19,"y2Offset":-14},"encoding":{"x":{"field":"f","type":"quantitative"},"y":{"datum":30},"y2":{"datum":30}}},
{"data":{"name":"bb3"},"transform":[{"filter":"datum.lvl == 2"}],"mark":{"type":"rule","xOffset":6,"yOffset":-19,"y2Offset":-14},"encoding":{"x":{"field":"e","type":"quantitative"},"y":{"datum":30},"y2":{"datum":30}}},
{"data":{"name":"bb3"},"transform":[{"filter":"datum.lvl == 2"}],"mark":{"type":"text","baseline":"middle","xOffset":-2.5,"yOffset":-24},"encoding":{"x":{"field":"c","type":"quantitative"},"y":{"datum":30},"text":{"field":"lab"}}},
{"data":{"name":"chip"},"transform":[{"filter":"datum.k == 1"}],"mark":{"type":"text","align":"right","baseline":"middle","xOffset":1,"yOffset":-31},"encoding":{"x":{"datum":0.5},"y":{"datum":30},"text":{"field":"t"}}},
{"data":{"name":"chip"},"transform":[{"filter":"datum.k == 2"}],"mark":{"type":"text","align":"right","baseline":"middle","xOffset":1,"yOffset":-18},"encoding":{"x":{"datum":0.5},"y":{"datum":30},"text":{"field":"t"}}}
]
}
]
}
]
}
